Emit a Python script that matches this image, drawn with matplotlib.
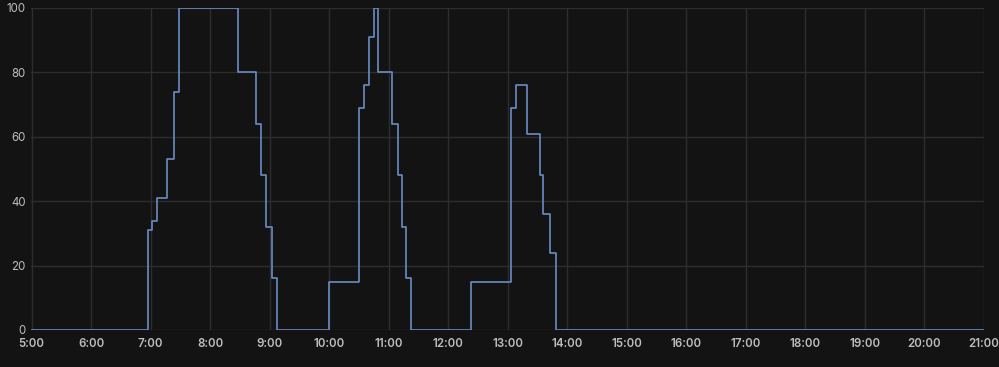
import matplotlib
matplotlib.use("Agg")
import matplotlib.pyplot as plt
from matplotlib.ticker import FixedLocator, FuncFormatter

# Time in hours of day, value at that time (step function, post)
times = [5.0, 6.963, 7.03, 7.11, 7.27, 7.40, 7.48, 8.47, 8.77, 8.85, 8.94, 9.04, 9.12,
         10.0, 10.50, 10.58, 10.67, 10.75, 10.82, 11.06, 11.15, 11.23, 11.29, 11.37,
         12.38, 13.06, 13.14, 13.32, 13.54, 13.60, 13.71, 13.81, 21.0]
values = [0, 31, 34, 41, 53, 74, 100, 80, 64, 48, 32, 16, 0,
          15, 69, 76, 91, 100, 80, 64, 48, 32, 16, 0,
          15, 69, 76, 61, 48, 36, 24, 0, 0]

x_ticks = list(range(5, 22))
y_ticks = [0, 20, 40, 60, 80, 100]

plt.rcParams['font.family'] = ['Inter', 'DejaVu Sans']

bg = '#131313'
fig = plt.figure(figsize=(9.99, 3.67), dpi=100, facecolor=bg)
ax = fig.add_axes([31.5 / 999, 37 / 367, (984 - 31.5) / 999, (330 - 8) / 367])
ax.set_facecolor(bg)

ax.plot(times, values, drawstyle='steps-post', color='#6688BE', lw=1.25, zorder=3)

ax.set_xlim(5, 21)
ax.set_ylim(0, 100)
ax.xaxis.set_major_locator(FixedLocator(x_ticks))
ax.xaxis.set_major_formatter(FuncFormatter(lambda v, p: f"{int(round(v))}:00"))
ax.yaxis.set_major_locator(FixedLocator(y_ticks))

ax.grid(True, color='#2d2d2d', lw=1, zorder=0)
for s in ax.spines.values():
    s.set_visible(False)
ax.tick_params(axis='both', length=0, colors='#bdbdbd')
ax.tick_params(axis='x', pad=6, labelsize=8.3)
ax.tick_params(axis='y', pad=4, labelsize=8.3)
for lab in ax.get_xticklabels():
    lab.set_fontweight('semibold')

fig.savefig('out.png', dpi=100, facecolor=bg)
